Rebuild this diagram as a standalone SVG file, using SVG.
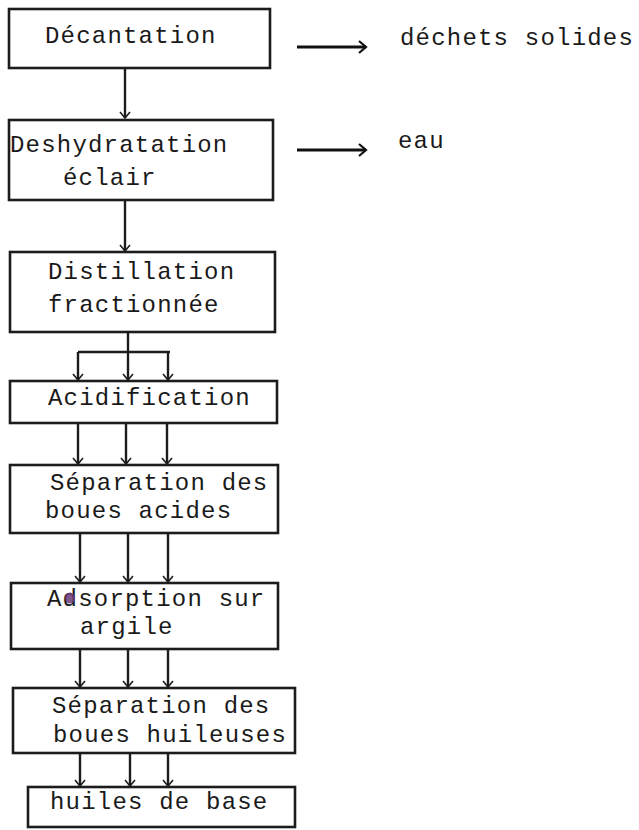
<svg xmlns="http://www.w3.org/2000/svg" width="639" height="830" viewBox="0 0 639 830">
  <style>
    .box { fill: #ffffff; stroke: #1c1c1c; stroke-width: 2.6; }
    .lbl { font-family: "Liberation Mono", "Courier New", monospace; font-size: 24px; letter-spacing: 1.2px; fill: #1a1a1a; }
    .wire { fill: none; stroke: #1c1c1c; stroke-width: 2.4; }
    .arrow { fill: none; stroke: #1c1c1c; stroke-width: 2.4; marker-end: url(#head); }
    .side { fill: none; stroke: #111111; stroke-width: 3; marker-end: url(#headSide); }
  </style>
  <defs>
    <marker id="head" markerUnits="userSpaceOnUse" markerWidth="14" markerHeight="14" refX="7" refY="7" orient="auto" overflow="visible">
      <path d="M1,2 L7,7 L1,12" fill="none" stroke="#1c1c1c" stroke-width="1.6"/>
    </marker>
    <marker id="headSide" markerUnits="userSpaceOnUse" markerWidth="16" markerHeight="16" refX="8" refY="8" orient="auto" overflow="visible">
      <path d="M1,2 L8,8 L1,14" fill="none" stroke="#111111" stroke-width="2.2"/>
    </marker>
  </defs>
  <rect width="639" height="830" fill="#ffffff"/>

  <!-- connectors -->
  <g id="connectors">
    <line class="arrow" x1="125" y1="68" x2="125" y2="118"/>
    <line class="arrow" x1="125" y1="200" x2="125" y2="251"/>
    <!-- split after distillation -->
    <line class="wire" x1="128" y1="332" x2="128" y2="352"/>
    <line class="wire" x1="78" y1="352" x2="170" y2="352"/>
    <line class="arrow" x1="78" y1="352" x2="78" y2="380"/>
    <line class="arrow" x1="128" y1="352" x2="128" y2="380"/>
    <line class="arrow" x1="168" y1="352" x2="168" y2="380"/>
    <!-- acidification to separation -->
    <line class="arrow" x1="78" y1="423" x2="78" y2="464"/>
    <line class="arrow" x1="126" y1="423" x2="126" y2="464"/>
    <line class="arrow" x1="167" y1="423" x2="167" y2="464"/>
    <!-- separation to adsorption -->
    <line class="arrow" x1="80" y1="533" x2="80" y2="582"/>
    <line class="arrow" x1="128" y1="533" x2="128" y2="582"/>
    <line class="arrow" x1="168" y1="533" x2="168" y2="582"/>
    <!-- adsorption to separation -->
    <line class="arrow" x1="80" y1="649" x2="80" y2="687"/>
    <line class="arrow" x1="128" y1="649" x2="128" y2="687"/>
    <line class="arrow" x1="168" y1="649" x2="168" y2="687"/>
    <!-- separation to base oils -->
    <line class="arrow" x1="80" y1="753" x2="80" y2="786"/>
    <line class="arrow" x1="130" y1="753" x2="130" y2="786"/>
    <line class="arrow" x1="168" y1="753" x2="168" y2="786"/>
    <!-- side outputs -->
    <line class="side" x1="297" y1="47" x2="366" y2="47"/>
    <line class="side" x1="297" y1="150" x2="366" y2="150"/>
  </g>

  <g id="decantation">
    <rect class="box" x="9" y="9" width="261" height="59"/>
    <text class="lbl" x="45" y="43">Décantation</text>
  </g>
  <g id="dechets">
    <text class="lbl" x="400" y="45">déchets solides</text>
  </g>
  <g id="deshydratation">
    <rect class="box" x="9" y="120" width="264" height="80"/>
    <text class="lbl" x="10" y="152">Deshydratation</text>
    <text class="lbl" x="63" y="185">éclair</text>
  </g>
  <g id="eau">
    <text class="lbl" x="398" y="148">eau</text>
  </g>
  <g id="distillation">
    <rect class="box" x="10" y="252" width="265" height="80"/>
    <text class="lbl" x="48" y="279">Distillation</text>
    <text class="lbl" x="48" y="312">fractionnée</text>
  </g>
  <g id="acidification">
    <rect class="box" x="10" y="381" width="267" height="42"/>
    <text class="lbl" x="48" y="405">Acidification</text>
  </g>
  <g id="separation-acides">
    <rect class="box" x="10" y="465" width="268" height="68"/>
    <text class="lbl" x="50" y="490">Séparation des</text>
    <text class="lbl" x="45" y="518">boues acides</text>
  </g>
  <g id="adsorption">
    <rect class="box" x="11" y="583" width="267" height="66"/>
    <text class="lbl" x="47" y="606">Adsorption sur</text>
    <text class="lbl" x="80" y="634">argile</text>
    <!-- ink spot over the d -->
    <ellipse cx="70" cy="598" rx="5" ry="5.5" fill="#6a3a78" opacity="0.85"/>
  </g>
  <g id="separation-huileuses">
    <rect class="box" x="13" y="688" width="282" height="65"/>
    <text class="lbl" x="52" y="713">Séparation des</text>
    <text class="lbl" x="53" y="742">boues huileuses</text>
  </g>
  <g id="huiles-base">
    <rect class="box" x="28" y="787" width="267" height="40"/>
    <text class="lbl" x="50" y="809">huiles de base</text>
  </g>
</svg>
